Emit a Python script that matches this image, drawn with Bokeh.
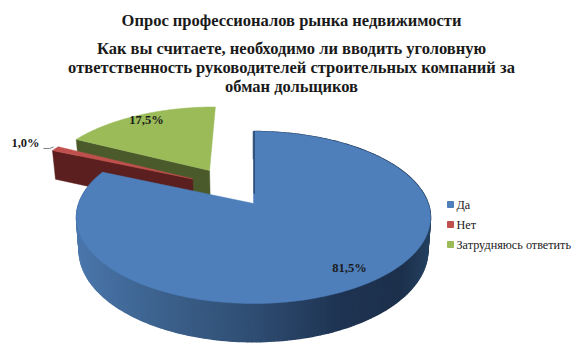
import numpy as np
from bokeh.plotting import figure
from bokeh.embed import file_html
from bokeh.resources import INLINE
from bokeh.core.properties import value

# --- data -------------------------------------------------------------
categories = ["Да", "Нет", "Затрудняюсь ответить"]
values = [81.5, 1.0, 17.5]
value_labels = ["81,5%", "1,0%", "17,5%"]
title_lines = ["Опрос профессионалов рынка недвижимости",
               "Как вы считаете, необходимо ли вводить уголовную",
               "ответственность руководителей строительных компаний за",
               "обман дольщиков"]
top_colors = ["#4e7fbb", "#c0504d", "#9bbb59"]
wall_colors = ["#2f4d72", "#5a1f1e", "#4a5a2b"]
# explosion of each slice, in units of the pie radius
explode_u = [0.0, -0.366, -0.269]
explode_v = [0.0, 0.309, 0.421]

# --- projection of the tilted pie to page pixels ----------------------
CX, CY, RX, RY, PERSP = 253.0, 203.0, 174.6, 83.7, 0.163
DEPTH, SHRINK = 32.0, 0.985


def project(u, v, low=False):
    u, v = np.asarray(u, float), np.asarray(v, float)
    w = 1 + PERSP * v
    x = RX * u / w
    y = CY - RY * v / w
    if low:
        return CX + x * SHRINK, y + DEPTH / w
    return CX + x, y


W, H = 574, 345
p = figure(width=W, height=H, x_range=(0, W), y_range=(H, 0),
           toolbar_location=None, output_backend="svg", min_border=0)
p.axis.visible = False
p.grid.visible = False
p.outline_line_color = None
p.background_fill_color = "white"

fr = np.cumsum([0] + values) / sum(values) * 2 * np.pi


def sector(i):
    t = np.linspace(fr[i], fr[i + 1], max(3, int((fr[i + 1] - fr[i]) * 60)))
    u = np.r_[0, np.sin(t)] + explode_u[i]
    v = np.r_[0, np.cos(t)] + explode_v[i]
    return u, v, t


def radial_wall(i, t, color):
    u = np.array([0, np.sin(t)]) + explode_u[i]
    v = np.array([0, np.cos(t)]) + explode_v[i]
    xa, ya = project(u, v)
    xb, yb = project(u, v, low=True)
    p.patch(np.r_[xa, xb[::-1]], np.r_[ya, yb[::-1]],
            fill_color=color, line_color=color, line_width=0.5)


def top(i):
    u, v, _ = sector(i)
    x, y = project(u, v)
    p.patch(x, y, fill_color=top_colors[i], line_color=top_colors[i], line_width=0.5)


# green slice (behind)
radial_wall(2, fr[2], wall_colors[2])
top(2)
# red slice
radial_wall(1, fr[1], wall_colors[1])
top(1)

# blue rim, shaded by horizontal position
stop_x = [78, 150, 255, 340, 400, 432]
stop_r = [0x4a, 0x3e, 0x2f, 0x1f, 0x1d, 0x25]
stop_g = [0x76, 0x64, 0x4d, 0x34, 0x31, 0x42]
stop_b = [0xab, 0x90, 0x72, 0x52, 0x4c, 0x62]
t = np.linspace(fr[0], fr[1], 240)
xs, ys, cs = [], [], []
for a, b in zip(t[:-1], t[1:]):
    u = np.sin([a, b])
    v = np.cos([a, b])
    xa, ya = project(u, v)
    xb, yb = project(u, v, low=True)
    xs.append(np.r_[xa, xb[::-1]])
    ys.append(np.r_[ya, yb[::-1]])
    m = xa.mean()
    cs.append("#%02x%02x%02x" % (int(np.interp(m, stop_x, stop_r)),
                                 int(np.interp(m, stop_x, stop_g)),
                                 int(np.interp(m, stop_x, stop_b))))
p.patches(xs, ys, fill_color=cs, line_color=cs, line_width=1.5)
top(0)
# dark inner edge of the big slice at twelve o'clock
ex, ey = project([0, 0], [0.12, 1])
p.line(ex + 0.6, ey, line_color="#1f3350", line_width=1)

# --- texts ------------------------------------------------------------
serif = value("Liberation Serif")
title_y = [19.5, 48, 67, 86]
for s, y in zip(title_lines, title_y):
    p.text([291], [y], text=[s], text_font=serif, text_font_size=value("16.5px"),
           text_font_style="bold", text_align="center", text_baseline="middle",
           text_color="#1a1a1a")

label_x = [349, 25, 146]
label_y = [267, 142, 119]
p.text(label_x, label_y, text=value_labels, text_font=serif, text_font_size=value("12.5px"),
       text_font_style="bold", text_align="center", text_baseline="middle", text_color="#1a1a1a")
p.line([43, 49, 53], [148, 148, 146.5], line_color="#7f7f7f", line_width=1)

legend_y = [204, 224, 244]
p.scatter([450] * 3, legend_y, marker="square", size=6, color=top_colors)
p.text([456] * 3, legend_y, text=categories, text_font=serif, text_font_size=value("12.2px"),
       text_align="left", text_baseline="middle", text_color="#1a1a1a")

open("out.html", "w").write(file_html(p, INLINE))
